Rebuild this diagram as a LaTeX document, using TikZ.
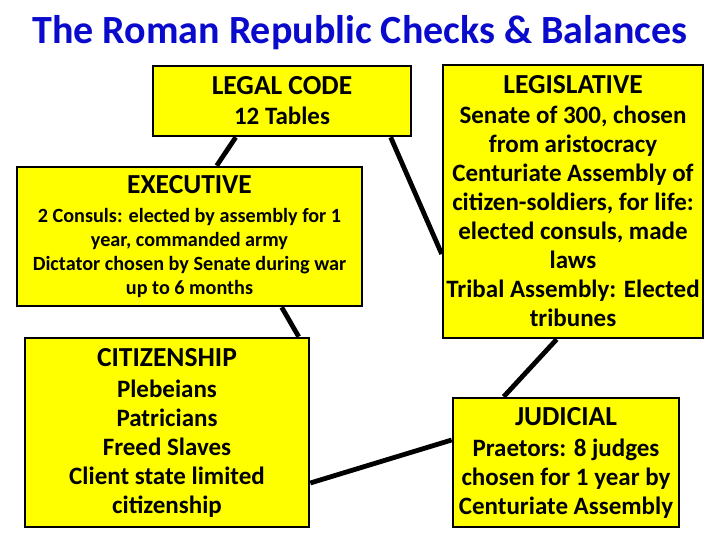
\documentclass[tikz,border=0pt]{standalone}
\usepackage{fontspec}
\setmainfont{Carlito}
\usetikzlibrary{calc}
\definecolor{heading}{HTML}{0A0ACC}
\definecolor{box}{HTML}{FFFF00}

\tikzset{
  branch/.style={draw=black,fill=box,line width=2.6pt,align=center,inner sep=0pt,
    font=\fontsize{25}{29}\selectfont\bfseries},
  small/.style={font=\fontsize{20.2}{24}\selectfont\bfseries},
  link/.style={black,line width=4.8pt}
}
\newcommand{\hd}[1]{{\fontsize{27.5}{31}\selectfont #1}}

\begin{document}
\begin{tikzpicture}[x=1pt,y=-1pt]
  \useasboundingbox (0,0) rectangle (720,540);
  \fill[white] (0,0) rectangle (720,540);

  % Title
  \node[font=\fontsize{40}{44}\selectfont\bfseries,text=heading] (title) at (360,33) {The Roman Republic Checks \& Balances};

  % Branches
  \node[branch,minimum width=258pt,minimum height=70pt] (legal) at (282,101)
    {\hd{LEGAL CODE}\\[1pt] 12 Tables};
  \node[branch,small,minimum width=345pt,minimum height=139pt] (exec) at (189.5,236.5)
    {\hd{EXECUTIVE}\\[5pt]
     2 Consuls: elected by assembly for 1\\
     year, commanded army\\
     Dictator chosen by Senate during war\\
     up to 6 months};
  \node[branch,minimum width=284pt,minimum height=189pt] (citizen) at (167,432.5)
    {\hd{CITIZENSHIP}\\[2pt] Plebeians\\ Patricians\\ Freed Slaves\\ Client state limited\\ citizenship};
  \node[branch,minimum width=260pt,minimum height=273pt] (legis) at (573,201.5)
    {\hd{LEGISLATIVE}\\[1pt] Senate of 300, chosen\\ from aristocracy\\ Centuriate Assembly of\\
     citizen-soldiers, for life:\\ elected consuls, made\\ laws\\ Tribal Assembly: Elected\\ tribunes};
  \node[branch,minimum width=226pt,minimum height=129pt] (judicial) at (566,462.5)
    {\hd{JUDICIAL}\\[2pt] Praetors: 8 judges\\ chosen for 1 year by\\ Centuriate Assembly};

  % Connectors
  \draw[link] ([xshift=84pt]legal.south west) -- ([xshift=201pt]exec.north west);
  \draw[link] ([xshift=239pt]legal.south west) -- ([yshift=-52.5pt]legis.west);
  \draw[link] ([xshift=266pt]exec.south west) -- ([xshift=275pt]citizen.north west);
  \draw[link] ([xshift=115pt]legis.south west) -- ([xshift=52pt]judicial.north west);
  \draw[link] ([yshift=-50.5pt]citizen.east) -- ([yshift=22.5pt]judicial.west);
\end{tikzpicture}
\end{document}
